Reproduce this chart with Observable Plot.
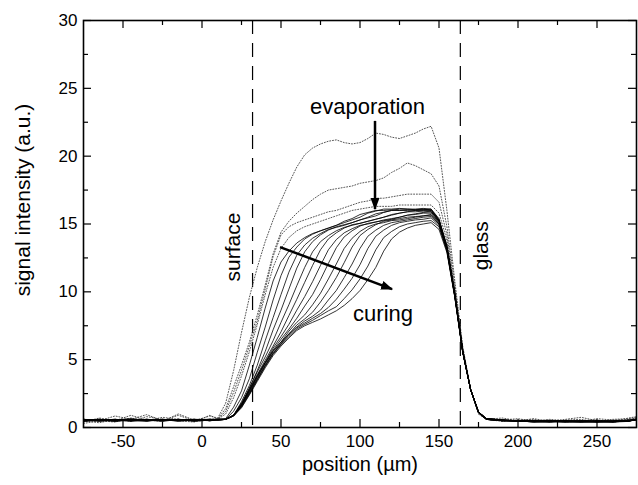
<!DOCTYPE html>
<html><head><meta charset="utf-8">
<script src="https://cdn.jsdelivr.net/npm/d3@7"></script>
<script src="https://cdn.jsdelivr.net/npm/@observablehq/plot@0.6"></script>
<style>body{margin:0;background:#fff}#chart svg{display:block}</style>
</head><body><div id="chart"></div>
<script>
// position (µm) sample grid shared by all profiles
const positions = [-75,-65,-55,-45,-35,-25,-15,-5,5,10,
  15,20,25,30,35,40,45,50,55,60,
  65,70,75,80,85,90,95,100,105,110,
  115,120,125,130,135,140,145,
  150,155,160,165,170,175,180,
  190,200,210,220,230,240,250,260,270,275];

// curing profiles (solid), earliest to latest
const curing01 = [0.55,0.6,0.5,0.55,0.6,0.5,0.55,0.6,0.55,0.6,
  0.65,1.5,2.7,4.6,6.65,8.8,10.8,12.2,13.0,13.6,
  14.0,14.3,14.5,14.7,14.9,15.2,15.4,15.7,15.85,16.0,
  16.0,16.05,16.0,16.0,16.05,16.05,16.1,
  15.3,13.4,9.9,5.7,2.8,1.15,0.65,
  0.55,0.5,0.45,0.5,0.45,0.4,0.45,0.4,0.5,0.6];
const curing02 = [0.5,0.55,0.6,0.5,0.55,0.6,0.5,0.55,0.6,0.6,
  0.6,1.2,2.2,3.6,5.55,7.4,9.4,11.2,12.55,13.3,
  13.9,14.25,14.5,14.7,14.9,15.1,15.3,15.5,15.8,15.95,
  16.1,16.1,16.15,16.1,16.1,16.15,16.1,
  15.4,13.3,9.8,5.6,2.8,1.1,0.6,
  0.5,0.45,0.5,0.45,0.5,0.45,0.4,0.45,0.55,0.55];
const curing03 = [0.6,0.5,0.55,0.65,0.5,0.55,0.6,0.5,0.6,0.55,
  0.6,0.9,1.9,3.1,4.6,6.4,8.1,9.8,11.45,12.7,
  13.45,13.95,14.3,14.6,14.75,14.9,15.1,15.3,15.5,15.75,
  15.87,16.0,16.0,16.05,16.0,16.05,16.0,
  15.2,13.3,9.8,5.6,2.8,1.15,0.65,
  0.55,0.5,0.45,0.4,0.45,0.5,0.45,0.4,0.45,0.6];
const curing04 = [0.45,0.6,0.55,0.5,0.6,0.55,0.5,0.6,0.5,0.6,
  0.6,0.9,1.6,2.9,4.2,5.6,7.2,8.65,10.2,11.75,
  12.95,13.7,14.2,14.55,14.8,14.95,15.1,15.3,15.45,15.6,
  15.85,16.0,16.1,16.1,16.05,16.1,16.05,
  15.3,13.2,9.7,5.6,2.8,1.1,0.6,
  0.5,0.5,0.4,0.45,0.5,0.45,0.4,0.45,0.5,0.55];
const curing05 = [0.6,0.55,0.45,0.6,0.5,0.6,0.55,0.5,0.6,0.55,
  0.6,0.9,1.8,2.9,4.1,5.2,6.4,7.75,9.05,10.45,
  11.8,12.95,13.7,14.15,14.5,14.75,14.9,15.05,15.2,15.35,
  15.5,15.7,15.8,15.9,15.9,15.95,15.9,
  15.2,13.2,9.8,5.6,2.8,1.15,0.65,
  0.55,0.45,0.5,0.45,0.4,0.45,0.5,0.45,0.5,0.65];
const curing06 = [0.5,0.6,0.55,0.45,0.6,0.5,0.6,0.55,0.5,0.6,
  0.6,0.9,1.75,2.8,3.9,4.95,6.0,7.05,8.25,9.45,
  10.7,11.95,13.1,13.9,14.35,14.7,14.95,15.05,15.2,15.35,
  15.5,15.65,15.8,15.9,16.0,16.0,16.0,
  15.3,13.4,9.9,5.7,2.8,1.1,0.6,
  0.5,0.5,0.45,0.5,0.45,0.4,0.45,0.5,0.45,0.6];
const curing07 = [0.55,0.45,0.6,0.55,0.5,0.6,0.45,0.55,0.6,0.55,
  0.6,0.9,1.7,2.75,3.85,4.8,5.85,6.7,7.6,8.65,
  9.65,10.75,11.95,13.1,13.85,14.35,14.65,14.9,15.0,15.15,
  15.25,15.35,15.5,15.65,15.7,15.8,15.8,
  15.1,13.2,9.7,5.6,2.8,1.15,0.65,
  0.55,0.45,0.45,0.4,0.5,0.45,0.4,0.45,0.5,0.55];
const curing08 = [0.6,0.5,0.5,0.6,0.55,0.45,0.6,0.5,0.55,0.6,
  0.6,0.9,1.7,2.7,3.8,4.8,5.7,6.5,7.25,8.05,
  8.95,9.8,10.9,12.1,13.25,14.05,14.5,14.85,15.05,15.15,
  15.3,15.4,15.5,15.65,15.75,15.85,15.9,
  15.2,13.3,9.8,5.6,2.8,1.1,0.6,
  0.5,0.5,0.4,0.45,0.45,0.5,0.45,0.4,0.55,0.6];
const curing09 = [0.5,0.55,0.6,0.5,0.45,0.6,0.55,0.6,0.5,0.55,
  0.6,0.9,1.65,2.7,3.75,4.75,5.65,6.3,7.1,7.75,
  8.3,9.05,9.9,10.95,12.05,13.2,13.95,14.45,14.8,15.0,
  15.1,15.25,15.3,15.4,15.5,15.6,15.65,
  15.0,13.1,9.7,5.6,2.8,1.15,0.65,
  0.55,0.45,0.5,0.45,0.4,0.45,0.5,0.45,0.5,0.55];
const curing10 = [0.55,0.6,0.5,0.55,0.6,0.5,0.6,0.45,0.55,0.6,
  0.6,0.9,1.6,2.6,3.7,4.7,5.6,6.3,6.9,7.55,
  8.0,8.5,9.25,10.1,11.05,12.15,13.3,14.15,14.6,14.95,
  15.2,15.3,15.4,15.5,15.55,15.6,15.7,
  15.1,13.2,9.8,5.6,2.8,1.1,0.6,
  0.5,0.5,0.45,0.5,0.45,0.4,0.45,0.5,0.45,0.65];
const curing11 = [0.6,0.5,0.55,0.6,0.5,0.55,0.5,0.6,0.6,0.55,
  0.6,0.85,1.6,2.55,3.6,4.6,5.5,6.2,6.9,7.4,
  7.85,8.2,8.65,9.4,10.1,11.05,12.05,13.2,14.1,14.55,
  14.9,15.1,15.2,15.3,15.4,15.5,15.55,
  15.0,13.1,9.7,5.6,2.8,1.15,0.65,
  0.55,0.45,0.45,0.4,0.5,0.45,0.4,0.45,0.5,0.6];
const curing12 = [0.45,0.55,0.6,0.5,0.6,0.55,0.6,0.5,0.55,0.6,
  0.6,0.85,1.55,2.5,3.55,4.55,5.45,6.15,6.8,7.35,
  7.7,8.05,8.4,8.85,9.45,10.2,11.0,12.0,13.2,14.1,
  14.55,14.9,15.1,15.2,15.3,15.35,15.45,
  14.9,13.1,9.7,5.6,2.8,1.1,0.6,
  0.5,0.5,0.4,0.45,0.45,0.5,0.45,0.4,0.55,0.55];
const curing13 = [0.55,0.6,0.45,0.55,0.5,0.6,0.55,0.6,0.5,0.55,
  0.6,0.85,1.5,2.45,3.5,4.5,5.4,6.1,6.7,7.25,
  7.6,7.9,8.25,8.6,8.9,9.5,10.15,10.95,11.9,13.1,
  14.0,14.45,14.8,15.0,15.1,15.2,15.25,
  14.8,13.0,9.6,5.6,2.8,1.15,0.65,
  0.55,0.45,0.5,0.45,0.4,0.45,0.5,0.45,0.5,0.6];
const curing14 = [0.6,0.5,0.55,0.6,0.55,0.5,0.6,0.55,0.6,0.6,
  0.6,0.85,1.45,2.4,3.4,4.4,5.3,6.0,6.6,7.15,
  7.5,7.75,8.0,8.3,8.6,9.0,9.5,10.1,10.9,11.8,
  13.0,13.9,14.4,14.7,14.9,15.0,15.1,
  14.6,12.9,9.6,5.5,2.8,1.1,0.6,
  0.5,0.5,0.45,0.5,0.45,0.4,0.45,0.5,0.45,0.6];

// evaporation profiles (dotted), earliest to latest
const evaporation1 = [0.3,0.5,0.85,0.6,0.95,0.5,0.9,0.5,0.85,0.7,
  1.8,4.2,7.0,9.6,11.8,13.7,15.3,16.7,18.0,19.2,
  20.1,20.6,20.9,21.1,21.2,21.0,20.9,21.0,21.3,21.7,
  21.6,21.4,21.3,21.5,21.7,22.0,22.2,
  20.6,16.0,10.8,6.0,2.8,1.0,0.6,
  0.7,0.5,0.65,0.45,0.6,0.75,0.5,0.45,0.7,0.8];
const evaporation2 = [0.4,0.7,0.5,0.9,0.55,0.45,1.0,0.55,0.6,0.65,
  1.4,3.0,4.6,6.3,8.3,10.5,12.8,14.4,15.2,15.8,
  16.3,16.8,17.2,17.5,17.6,17.7,17.8,18.0,18.1,18.2,
  18.4,18.8,19.1,19.5,19.3,19.0,18.7,
  17.8,14.8,10.5,5.8,2.8,1.0,0.6,
  0.55,0.65,0.45,0.6,0.5,0.45,0.65,0.55,0.6,0.7];
const evaporation3 = [0.5,0.35,0.6,0.45,0.8,0.6,0.5,0.4,0.9,0.6,
  1.2,2.6,4.2,6.0,7.9,10.2,12.6,14.2,14.8,15.1,
  15.3,15.5,15.7,15.9,16.0,16.2,16.4,16.6,16.7,16.9,
  16.9,17.0,17.1,17.2,17.2,17.2,17.2,
  16.6,14.2,10.2,5.8,2.8,1.1,0.6,
  0.45,0.55,0.6,0.4,0.55,0.6,0.4,0.6,0.65,0.75];
const evaporation4 = [0.6,0.5,0.4,0.7,0.5,0.75,0.6,0.45,0.55,0.6,
  1.0,2.2,3.8,5.6,7.6,9.8,11.8,13.2,14.0,14.5,
  14.8,15.0,15.2,15.4,15.6,15.8,16.0,16.1,16.2,16.3,
  16.3,16.3,16.4,16.4,16.4,16.4,16.4,
  15.8,13.8,10.0,5.7,2.8,1.1,0.6,
  0.6,0.45,0.5,0.55,0.4,0.5,0.55,0.4,0.5,0.6];

// ticks
const xMajor = [-50,0,50,100,150,200,250];
const xMinor = [-25,25,75,125,175,225];
const yMajor = [0,5,10,15,20,25,30];
const yMinor = [2.5,7.5,12.5,17.5,22.5,27.5];

// boundaries and annotations
const boundaryX = [32, 163.5];
const boundaryLabels = ["surface", "glass"];
const boundaryLabelX = [19.8, 177];
const boundaryLabelY = [13.3, 13.4];
const noteLabels = ["evaporation", "curing"];
const noteX = [104.7, 114.6];
const noteY = [23.65, 8.4];
const arrowX1 = [109.5, 49.4];
const arrowY1 = [22.6, 13.3];
const arrowX2 = [109.5, 120.3];
const arrowY2 = [16.1, 10.2];

const solid = [curing01,curing02,curing03,curing04,curing05,curing06,curing07,curing08,curing09,curing10,curing11,curing12,curing13,curing14];
const dotted = [evaporation1,evaporation2,evaporation3,evaporation4];
const toRows = (series, tag) => series.flatMap((vals, k) => vals.map((v, j) => ({x: positions[j], y: v, curve: tag + k})));
const solidRows = toRows(solid, "c");
const dottedRows = toRows(dotted, "e");
const boundaryRows = boundaryLabels.map((t, i) => ({t, x: boundaryLabelX[i], y: boundaryLabelY[i]}));
const noteRows = noteLabels.map((t, i) => ({t, x: noteX[i], y: noteY[i]}));
const arrowRows = arrowX1.map((d, i) => ({x1: arrowX1[i], y1: arrowY1[i], x2: arrowX2[i], y2: arrowY2[i]}));

const W = 638, H = 485, mL = 83, mR = 2, mT = 20, mB = 58;
const pw = W - mL - mR, ph = H - mT - mB;
const svgns = "http://www.w3.org/2000/svg";
function filledArrow(color) {
  const m = document.createElementNS(svgns, "marker");
  m.setAttribute("viewBox", "-12 -5 12 10");
  m.setAttribute("markerWidth", 4.8);
  m.setAttribute("markerHeight", 4);
  m.setAttribute("refX", -1);
  m.setAttribute("refY", 0);
  m.setAttribute("orient", "auto");
  m.setAttribute("markerUnits", "strokeWidth");
  const p = document.createElementNS(svgns, "path");
  p.setAttribute("d", "M-12,-4.5L0,0L-12,4.5Z");
  p.setAttribute("fill", color);
  p.setAttribute("stroke", "none");
  m.appendChild(p);
  return m;
}

const chart = Plot.plot({
  width: W, height: H,
  marginLeft: mL, marginRight: mR, marginTop: mT, marginBottom: mB,
  style: {fontFamily: "'Liberation Sans', Arial, Helvetica, sans-serif", fontSize: "17px", color: "black", background: "white"},
  x: {domain: [-75, 275]},
  y: {domain: [0, 30]},
  marks: [
    Plot.ruleX(boundaryX, {stroke: "black", strokeWidth: 1.2, strokeDasharray: "14,9"}),
    Plot.line(dottedRows, {x: "x", y: "y", z: "curve", stroke: "#444", strokeWidth: 0.9, strokeDasharray: "1,1.8"}),
    Plot.line(solidRows, {x: "x", y: "y", z: "curve", stroke: "black", strokeWidth: 0.8}),
    Plot.link(arrowRows, {x1: "x1", y1: "y1", x2: "x2", y2: "y2", stroke: "black", strokeWidth: 2.5, markerEnd: filledArrow}),
    Plot.text(noteRows, {x: "x", y: "y", text: "t", fontSize: 22, fill: "black"}),
    Plot.text(boundaryRows, {x: "x", y: "y", text: "t", fontSize: 21, rotate: -90, fill: "black"}),
    // inward ticks on all four sides
    Plot.ruleX(xMajor, {stroke: "black", strokeWidth: 1.2, insetTop: ph - 8}),
    Plot.ruleX(xMajor, {stroke: "black", strokeWidth: 1.2, insetBottom: ph - 8}),
    Plot.ruleX(xMinor, {stroke: "black", strokeWidth: 1.2, insetTop: ph - 5}),
    Plot.ruleX(xMinor, {stroke: "black", strokeWidth: 1.2, insetBottom: ph - 5}),
    Plot.ruleY(yMajor, {stroke: "black", strokeWidth: 1.2, insetRight: pw - 8}),
    Plot.ruleY(yMajor, {stroke: "black", strokeWidth: 1.2, insetLeft: pw - 8}),
    Plot.ruleY(yMinor, {stroke: "black", strokeWidth: 1.2, insetRight: pw - 5}),
    Plot.ruleY(yMinor, {stroke: "black", strokeWidth: 1.2, insetLeft: pw - 5}),
    Plot.axisX(xMajor, {tickSize: 0, tickPadding: 7, tickFormat: d => String(d), label: null, fontSize: 17}),
    Plot.axisY(yMajor, {tickSize: 0, tickPadding: 6, tickFormat: d => String(d), label: null, fontSize: 17}),
    Plot.text(["position (µm)"], {frameAnchor: "bottom", dy: 43, fontSize: 20, fill: "black"}),
    Plot.text(["signal intensity (a.u.)"], {frameAnchor: "left", textAnchor: "middle", dx: -60, dy: -24, rotate: -90, fontSize: 21, fill: "black"}),
    Plot.frame({stroke: "black", strokeWidth: 1.6})
  ]
});
document.getElementById("chart").appendChild(chart);
</script>
</body></html>
